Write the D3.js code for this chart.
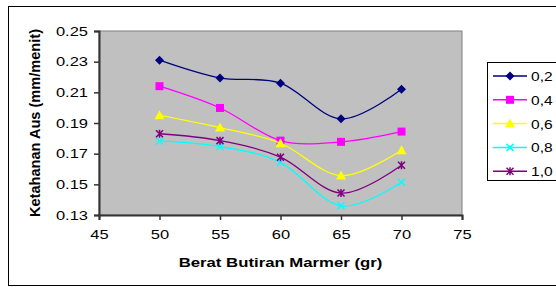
<!DOCTYPE html>
<html>
<head>
<meta charset="utf-8">
<script src="https://cdn.jsdelivr.net/npm/d3@7"></script>
<style>
  body { margin: 0; background: #fff; }
  text { font-family: "Liberation Sans", Arial, sans-serif; }
</style>
</head>
<body>
<svg id="chart" width="556" height="287"></svg>
<script>
// x values (berat butiran marmer, gr)
const xValues = [50, 55, 60, 65, 70];
const seriesNames = ["0,2", "0,4", "0,6", "0,8", "1,0"];
// ketahanan aus per series
const s02 = [0.231, 0.2194, 0.216, 0.1927, 0.212];
const s04 = [0.214, 0.1998, 0.1785, 0.1777, 0.1844];
const s06 = [0.195, 0.187, 0.1768, 0.1557, 0.1722];
const s08 = [0.1783, 0.1746, 0.1642, 0.136, 0.1514];
const s10 = [0.183, 0.1785, 0.1677, 0.1443, 0.1624];
const xTicks = [45, 50, 55, 60, 65, 70, 75];
const yTicks = [0.13, 0.15, 0.17, 0.19, 0.21, 0.23, 0.25];

const series = [
  {name: seriesNames[0], values: s02, color: "#000080", marker: "diamond"},
  {name: seriesNames[1], values: s04, color: "#FF00FF", marker: "square"},
  {name: seriesNames[2], values: s06, color: "#FFFF00", marker: "triangle"},
  {name: seriesNames[3], values: s08, color: "#00FFFF", marker: "cross"},
  {name: seriesNames[4], values: s10, color: "#800080", marker: "star"}
];

const svg = d3.select("#chart");

//the source picture is stretched sideways, so widen text to match
function stretch(sel, k) {
  sel.each(function() {
    const len = this.getComputedTextLength();
    d3.select(this).attr("textLength", len * k).attr("lengthAdjust", "spacingAndGlyphs");
  });
}

//outer chart border
svg.append("rect").attr("x", 8.5).attr("y", 6.5).attr("width", 560).attr("height", 279)
  .attr("fill", "#fff").attr("stroke", "#000").attr("stroke-width", 1);

const plot = {left: 99, right: 462, top: 31, bottom: 215};

const x = d3.scaleLinear().domain([45, 75]).range([plot.left, plot.right]);
const y = d3.scaleLinear().domain([0.13, 0.25]).range([plot.bottom, plot.top]);

//plot area
svg.append("rect").attr("x", plot.left).attr("y", plot.top)
  .attr("width", plot.right - plot.left).attr("height", plot.bottom - plot.top)
  .attr("fill", "#C0C0C0").attr("stroke", "#808080").attr("stroke-width", 1);

//axes
const xAxis = svg.append("g").attr("transform", "translate(0," + plot.bottom + ")")
  .call(d3.axisBottom(x).tickValues(xTicks).tickSize(5).tickPadding(9).tickFormat(d3.format("d")));
const yAxis = svg.append("g").attr("transform", "translate(" + plot.left + ",0)")
  .call(d3.axisLeft(y).tickValues(yTicks).tickSize(5).tickPadding(6).tickFormat(d3.format(".2f")));

[xAxis, yAxis].forEach(function(a) {
  a.select(".domain").attr("stroke", "#333").attr("stroke-width", 2);
  a.selectAll(".tick line").attr("stroke", "#333").attr("stroke-width", 1.5);
  a.selectAll(".tick text").attr("font-size", 13.5).attr("fill", "#000")
    .attr("font-family", "Liberation Sans, Arial, sans-serif");
  stretch(a.selectAll(".tick text"), 1.22);
});

//axis titles
const xTitle = svg.append("text").attr("x", (plot.left + plot.right) / 2).attr("y", 267)
  .attr("text-anchor", "middle").attr("font-size", 13.5).attr("font-weight", "bold")
  .text("Berat Butiran Marmer (gr)");
stretch(xTitle, 1.24);
svg.append("text").attr("transform", "translate(40," + (plot.top + plot.bottom) / 2 + ") rotate(-90)")
  .attr("text-anchor", "middle").attr("font-size", 14).attr("font-weight", "bold")
  .attr("textLength", 188).attr("lengthAdjust", "spacingAndGlyphs")
  .text("Ketahanan Aus (mm/menit)");

const line = d3.line().curve(d3.curveCatmullRom.alpha(0))
  .x(function(d, i) { return x(xValues[i]); })
  .y(function(d) { return y(d); });

//draws a marker of the given type centered at 0,0
function draw_marker(g, type, color) {
  if (type === "diamond") {
    g.append("path").attr("d", "M0 -4.5 L4.5 0 L0 4.5 L-4.5 0 Z").attr("fill", color);
  } else if (type === "square") {
    g.append("rect").attr("x", -4).attr("y", -4).attr("width", 8).attr("height", 8).attr("fill", color);
  } else if (type === "triangle") {
    g.append("path").attr("d", "M0 -5 L5 4 L-5 4 Z").attr("fill", color);
  } else if (type === "cross") {
    g.append("path").attr("d", "M-3.5 -3.5 L3.5 3.5 M-3.5 3.5 L3.5 -3.5")
      .attr("stroke", color).attr("stroke-width", 1.5);
  } else if (type === "star") {
    g.append("path").attr("d", "M-3.5 -3.5 L3.5 3.5 M-3.5 3.5 L3.5 -3.5 M0 -4 L0 4")
      .attr("stroke", color).attr("stroke-width", 1.5);
  }
}

series.forEach(function(s) {
  svg.append("path").attr("d", line(s.values)).attr("fill", "none")
    .attr("stroke", s.color).attr("stroke-width", 1.3);
  s.values.forEach(function(v, i) {
    const g = svg.append("g").attr("transform", "translate(" + x(xValues[i]) + "," + y(v) + ")");
    draw_marker(g, s.marker, s.color);
  });
});

//legend
svg.append("rect").attr("x", 487.5).attr("y", 62.5).attr("width", 80).attr("height", 118)
  .attr("fill", "#fff").attr("stroke", "#000").attr("stroke-width", 1);
series.forEach(function(s, i) {
  const ly = 76 + i * 23.8;
  svg.append("line").attr("x1", 493).attr("x2", 527).attr("y1", ly).attr("y2", ly)
    .attr("stroke", s.color).attr("stroke-width", 1.5);
  const g = svg.append("g").attr("transform", "translate(510," + ly + ")");
  draw_marker(g, s.marker, s.color);
  const t = svg.append("text").attr("x", 531).attr("y", ly + 5).attr("font-size", 13.5).text(s.name);
  stretch(t, 1.15);
});
</script>
</body>
</html>
